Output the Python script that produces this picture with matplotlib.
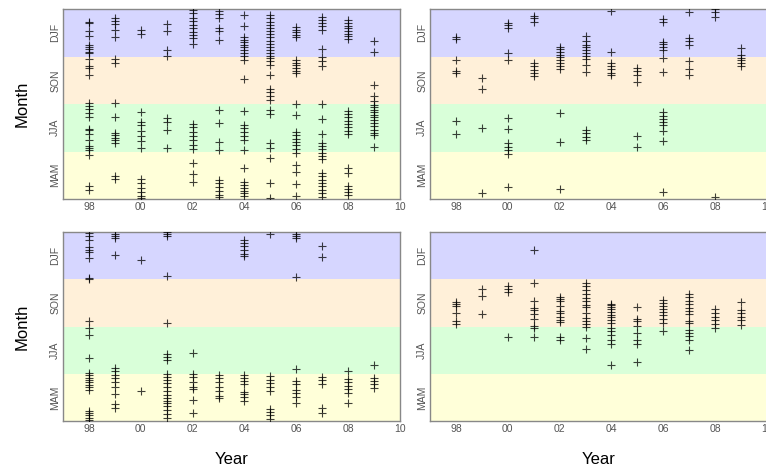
import numpy as np
import matplotlib.pyplot as plt

# Years on the x axis, one column of crosses per year
years = [1998, 1999, 2000, 2001, 2002, 2003, 2004, 2005, 2006, 2007, 2008, 2009]

# Season bands, value scale = months since 1 March (0..12)
seasons = ["MAM", "JJA", "SON", "DJF"]
season_colors = ["#ffffd9", "#d9ffd9", "#fff0d9", "#d6d6ff"]

xtick_years = [1998, 2000, 2002, 2004, 2006, 2008, 2010]
xtick_labels = ["98", "00", "02", "04", "06", "08", "10"]

# top left panel
top_left = [
    [11.2, 11.1, 10.6, 10.3, 9.7, 9.6, 9.45, 9.3, 9.2, 8.85, 8.4, 8.25, 7.85, 6.05, 5.9, 5.7, 5.4, 5.15,
     4.45, 4.35, 4.1, 3.7, 3.35, 3.2, 3.1, 2.8, 0.8, 0.55],
    [11.4, 11.25, 11.05, 10.7, 10.2, 8.85, 8.6, 6.05, 5.15, 4.2, 4.05, 3.85, 3.7, 3.55, 1.45, 1.25],
    [10.7, 10.45, 5.5, 4.85, 4.7, 4.3, 4.0, 3.65, 3.2, 1.25, 1.0, 0.72, 0.45, 0.22, 0.05],
    [11.05, 10.6, 9.4, 9.0, 5.1, 4.85, 4.35, 3.2],
    [11.95, 11.75, 11.45, 11.22, 11.0, 10.8, 10.55, 10.35, 10.15, 9.8, 4.75, 4.55, 4.22, 3.95, 3.75, 3.4,
     3.15, 2.3, 1.55, 1.05],
    [11.9, 11.7, 11.45, 10.8, 10.58, 10.05, 5.65, 4.8, 3.58, 3.1, 1.2, 1.0, 0.75, 0.5, 0.28, 0.1],
    [11.62, 10.9, 10.23, 10.06, 9.9, 9.75, 9.6, 9.42, 9.22, 9.0, 8.8, 7.6, 5.55, 4.7, 4.5, 4.25, 4.0, 3.7,
     3.1, 1.95, 1.05, 0.88, 0.68, 0.52, 0.36, 0.18],
    [11.6, 11.4, 11.2, 11.0, 10.8, 10.6, 10.4, 10.2, 10.0, 9.8, 9.6, 9.4, 9.2, 9.05, 8.9, 8.7, 8.45, 7.85,
     6.95, 6.75, 6.5, 6.25, 5.6, 5.35, 3.55, 3.2, 2.6, 1.0, 0.05],
    [10.87, 10.7, 10.53, 10.35, 10.2, 8.8, 8.62, 8.45, 8.28, 8.1, 7.95, 6.0, 5.3, 4.22, 4.02, 3.8, 3.6,
     3.38, 3.15, 2.9, 2.12, 1.7, 0.92, 0.22],
    [11.5, 11.3, 11.1, 10.9, 10.7, 9.45, 8.98, 8.72, 8.4, 6.0, 5.05, 4.1, 3.55, 3.35, 3.18, 2.9, 2.7, 2.5,
     1.65, 1.44, 1.23, 1.02, 0.8, 0.6, 0.38, 0.12],
    [11.3, 11.12, 10.95, 10.77, 10.6, 10.43, 10.27, 10.1, 5.58, 5.36, 5.15, 4.93, 4.72, 4.52, 4.3, 4.1,
     1.95, 1.62, 0.85, 0.65, 0.43, 0.25],
    [9.95, 9.3, 7.2, 6.5, 6.2, 5.95, 5.8, 5.65, 5.5, 5.32, 5.15, 5.0, 4.82, 4.6, 4.38, 4.2, 4.02, 3.3],
]

# top right panel
top_right = [
    [10.2, 10.08, 8.78, 8.1, 7.95, 4.9, 4.08],
    [7.65, 6.96, 4.47, 0.35],
    [11.12, 10.97, 10.81, 9.24, 8.78, 5.14, 4.45, 3.53, 3.3, 3.08, 2.84, 0.73],
    [11.55, 11.4, 11.2, 8.56, 8.38, 8.17, 7.97, 7.77],
    [9.62, 9.45, 9.28, 9.12, 8.95, 8.78, 8.6, 8.4, 8.2, 5.45, 3.62, 0.64],
    [10.3, 9.96, 9.75, 9.57, 9.4, 9.22, 9.02, 8.82, 8.45, 8.03, 4.36, 4.15, 3.92, 3.71],
    [11.88, 9.26, 8.62, 8.4, 8.2, 7.98, 7.8],
    [8.27, 8.1, 7.82, 7.4, 3.95, 3.27],
    [11.38, 11.18, 9.94, 9.77, 9.6, 9.43, 8.88, 8.0, 5.48, 5.24, 5.05, 4.88, 4.7, 4.3, 3.64, 0.45],
    [11.78, 10.14, 9.96, 9.75, 8.72, 8.2, 7.83],
    [11.98, 11.83, 11.5, 0.1],
    [9.55, 9.1, 8.93, 8.77, 8.58, 8.38],
]

# bottom left panel
bottom_left = [
    [11.95, 11.75, 11.5, 11.02, 10.88, 10.75, 10.33, 9.1, 9.04, 6.38, 5.93, 5.43, 4.0, 3.05, 2.9, 2.75,
     2.6, 2.45, 2.3, 2.15, 2.0, 0.66, 0.5, 0.35, 0.2, 0.06],
    [11.9, 11.76, 11.62, 10.52, 3.34, 3.15, 2.93, 2.72, 2.45, 2.14, 1.74, 1.08, 0.8],
    [10.2, 1.9],
    [11.98, 11.85, 11.72, 9.2, 6.22, 4.23, 4.07, 3.89, 3.0, 2.8, 2.6, 2.4, 2.13, 1.88, 1.66, 1.45, 1.3,
     1.13, 0.93, 0.72, 0.45, 0.2],
    [4.33, 2.96, 2.8, 2.49, 2.17, 2.02, 1.32, 0.48],
    [2.92, 2.7, 2.45, 2.18, 1.9, 1.6, 1.45],
    [11.5, 11.33, 11.12, 10.85, 10.6, 10.45, 2.92, 2.7, 2.52, 2.33, 1.83, 1.7, 1.5, 1.25],
    [11.9, 2.85, 2.62, 2.4, 2.18, 1.92, 0.76, 0.55, 0.35, 0.15],
    [11.9, 11.75, 11.6, 9.14, 3.33, 2.56, 2.38, 1.95, 1.75, 1.5, 1.13],
    [11.08, 10.42, 2.77, 2.58, 2.38, 0.85, 0.5],
    [3.2, 2.68, 2.47, 2.25, 2.04, 1.8, 1.16],
    [3.57, 2.7, 2.54, 2.38, 2.1],
]

# bottom right panel
bottom_right = [
    [7.57, 7.44, 7.28, 6.87, 6.32, 6.16],
    [8.37, 7.93, 6.78],
    [8.57, 8.41, 8.2, 5.36],
    [10.85, 8.76, 7.65, 7.17, 7.02, 6.82, 6.48, 6.02, 5.9, 5.34],
    [7.9, 7.76, 7.6, 7.3, 7.0, 6.84, 6.6, 6.44, 6.27, 5.31, 5.17],
    [8.75, 8.55, 8.3, 8.05, 7.82, 7.6, 7.38, 7.22, 6.88, 6.55, 6.33, 6.17, 5.96, 5.25, 4.6],
    [7.45, 7.35, 7.25, 7.12, 6.92, 6.75, 6.6, 6.43, 6.2, 5.92, 5.7, 5.48, 5.17, 4.9, 3.55],
    [7.22, 6.5, 6.32, 6.03, 5.6, 5.15, 4.92, 3.75],
    [7.7, 7.49, 7.28, 7.08, 6.9, 6.7, 6.45, 6.2, 5.73],
    [8.05, 7.85, 7.62, 7.4, 7.2, 6.98, 6.8, 6.37, 6.25, 5.8, 5.6, 5.38, 5.17, 4.5],
    [7.1, 6.85, 6.63, 6.42, 6.15, 5.92],
    [7.54, 7.04, 6.85, 6.58, 6.4, 6.12],
]

plt.rcParams['font.family'] = ['Liberation Sans', 'DejaVu Sans']

fig = plt.figure(figsize=(7.66, 4.67), dpi=100)

W, H = 766, 467
# panel boxes in pixels: left, top, right, bottom
boxes = [(63, 9, 400, 199), (430, 9, 767, 199), (63, 232, 400, 421), (430, 232, 767, 421)]
panels = [top_left, top_right, bottom_left, bottom_right]

axes = []
for (l, t, r, b), data in zip(boxes, panels):
    ax = fig.add_axes([l / W, (H - b) / H, (r - l) / W, (b - t) / H])
    axes.append(ax)

    # season bands
    for k in range(4):
        ax.axhspan(3 * k, 3 * (k + 1), color=season_colors[k], lw=0, zorder=0)

    for yr, vals in zip(years, data):
        ax.plot([yr] * len(vals), vals, ls='none', marker='+', ms=6, mew=0.8,
                color='black', alpha=0.75, zorder=3)

    ax.set_xlim(1997, 2010)
    ax.set_ylim(0, 12)
    ax.set_xticks(xtick_years)
    ax.set_xticklabels(xtick_labels)
    ax.set_yticks([1.5, 4.5, 7.5, 10.5])
    ax.set_yticklabels(seasons, rotation=90, va='center')
    ax.tick_params(axis='both', labelsize=7.5, labelcolor='#555555', length=0, pad=2)
    for sp in ax.spines.values():
        sp.set_color('#888888')
        sp.set_linewidth(1.0)

axes[0].set_ylabel('Month', fontsize=12, labelpad=15)
axes[2].set_ylabel('Month', fontsize=12, labelpad=15)
axes[2].set_xlabel('Year', fontsize=12, labelpad=13)
axes[3].set_xlabel('Year', fontsize=12, labelpad=13)

plt.savefig('out.png', dpi=100)
